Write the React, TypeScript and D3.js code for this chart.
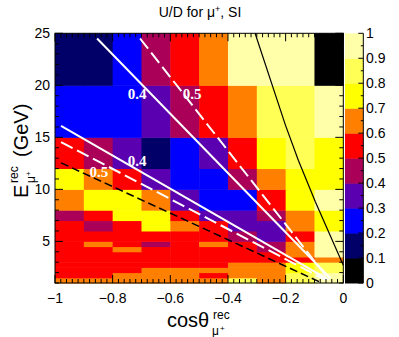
import React from 'react';
import * as d3 from 'd3';

// bin edges of the histogram
const cosEdges = [-1, -0.9, -0.8, -0.7, -0.6, -0.5, -0.4, -0.3, -0.2, -0.1, 0];
const energyEdges = [1, 1.5, 2, 2.5, 3, 3.5, 4, 4.5, 5, 6, 7, 8, 10, 12, 15, 20, 25];

// U/D ratio, one row per energy bin (bottom to top), columns follow cosEdges
const udRatio = [
  [0.65, 0.65, 0.65, 0.65, 0.65, 0.65, 0.85, 0.65, 0.85, 0.95],
  [0.55, 0.55, 0.65, 0.65, 0.65, 0.55, 0.65, 0.65, 0.85, 0.95],
  [0.55, 0.55, 0.55, 0.65, 0.65, 0.65, 0.65, 0.65, 0.75, 0.85],
  [0.55, 0.55, 0.55, 0.55, 0.55, 0.55, 0.65, 0.65, 0.75, 0.85],
  [0.55, 0.55, 0.55, 0.55, 0.55, 0.55, 0.55, 0.55, 0.55, 0.65],
  [0.55, 0.55, 0.55, 0.55, 0.55, 0.55, 0.55, 0.55, 0.65, 0.95],
  [0.55, 0.55, 0.65, 0.55, 0.55, 0.55, 0.55, 0.45, 0.65, 0.95],
  [0.55, 0.65, 0.55, 0.45, 0.55, 0.65, 0.55, 0.45, 0.65, 0.95],
  [0.55, 0.55, 0.55, 0.55, 0.55, 0.55, 0.45, 0.35, 0.55, 0.95],
  [0.55, 0.45, 0.55, 0.75, 0.65, 0.55, 0.35, 0.35, 0.65, 0.75],
  [0.45, 0.55, 0.75, 0.75, 0.55, 0.35, 0.35, 0.45, 0.65, 0.75],
  [0.65, 0.75, 0.75, 0.65, 0.35, 0.25, 0.25, 0.55, 0.75, 0.95],
  [0.75, 0.65, 0.55, 0.35, 0.25, 0.25, 0.45, 0.65, 0.75, 0.75],
  [0.55, 0.45, 0.35, 0.15, 0.25, 0.35, 0.55, 0.75, 0.85, 0.75],
  [0.25, 0.25, 0.25, 0.35, 0.45, 0.55, 0.65, 0.85, 0.85, 0.95],
  [0.15, 0.15, 0.25, 0.45, 0.55, 0.65, 0.95, 0.95, 0.95, 0.05],
];

const paletteLevels = [0, 0.1, 0.2, 0.3, 0.4, 0.5, 0.6, 0.7, 0.8, 0.9, 1];
const paletteColors = [
  '#000000', '#000068', '#0000ff', '#5a00b0', '#aa0058',
  '#ff0000', '#ff8000', '#ffff00', '#ffff55', '#ffffaa',
];

const xTickLabels = [-1, -0.8, -0.6, -0.4, -0.2, 0];
const yTickLabels = [5, 10, 15, 20, 25];

// overlay curves (cos, E)
const solidUpper = [[-0.854, 24.5], [-0.045, 1.45]];
const dashedUpper = [[-0.705, 24.5], [-0.056, 1.55]];
const solidLower = [[-0.979, 16.1], [-0.05, 1.3]];
const dashedLower = [[-0.979, 14.55], [-0.062, 1.3]];
const blackDashed = [[-0.979, 12.55], [-0.074, 1.0]];
const blackSolid = [[-0.306, 25], [-0.201, 16.2], [-0.156, 12.8], [-0.097, 8.8], [0, 2.7]];

const labels = [
  { text: '0.4', x: -0.748, y: 18.7 },
  { text: '0.5', x: -0.557, y: 18.7 },
  { text: '0.4', x: -0.748, y: 12.25 },
  { text: '0.5', x: -0.88, y: 11.15 },
];

const W = 399;
const H = 337;
const m = { left: 55, right: 343.3, top: 33.3, bottom: 283 };
const bar = { x0: 345, x1: 363.3 };
const font = 'Liberation Sans, Arial, Helvetica, sans-serif';

const App = () => {
  const xs = d3.scaleLinear().domain([-1, 0]).range([m.left, m.right]);
  const ys = d3.scaleLinear().domain([1, 25]).range([m.bottom, m.top]);
  const zs = d3.scaleLinear().domain([0, 1]).range([m.bottom, m.top]);
  const color = d3.scaleThreshold<number, string>().domain(paletteLevels.slice(1, -1)).range(paletteColors);
  const line = d3.line<number[]>().x((d) => xs(d[0])).y((d) => ys(d[1]));

  const xMinor = d3.range(0, 51).map((i) => -1 + i * 0.02);
  const yMinor = d3.range(1, 26);
  const zMinor = d3.range(0, 21).map((i) => i * 0.05);

  return (
    <svg width={W} height={H} style={{ position: 'absolute', left: 0, top: 0, background: '#fff' }}>
      <text x={200} y={17} textAnchor="middle" fontFamily={font} fontSize={14}>
        U/D for μ<tspan fontSize={9} dy={-5}>+</tspan><tspan dy={5}>, SI</tspan>
      </text>

      {udRatio.map((row, i) =>
        row.map((v, j) => (
          <rect
            key={`${i}-${j}`}
            x={xs(cosEdges[j])}
            y={ys(energyEdges[i + 1])}
            width={xs(cosEdges[j + 1]) - xs(cosEdges[j]) + 0.5}
            height={ys(energyEdges[i]) - ys(energyEdges[i + 1]) + 0.5}
            fill={color(v)}
          />
        ))
      )}

      <g fill="none">
        <path d={line(blackDashed)!} stroke="#000" strokeWidth={1.5} strokeDasharray="8,4" />
        <path d={line(blackSolid)!} stroke="#000" strokeWidth={1.2} />
        <path d={line(solidUpper)!} stroke="#fff" strokeWidth={2} />
        <path d={line(dashedUpper)!} stroke="#fff" strokeWidth={2} strokeDasharray="13,5" />
        <path d={line(solidLower)!} stroke="#fff" strokeWidth={2} />
        <path d={line(dashedLower)!} stroke="#fff" strokeWidth={2} strokeDasharray="13,5" />
      </g>
      {labels.map((l, i) => (
        <text key={i} x={xs(l.x)} y={ys(l.y)} fill="#fff" fontFamily="Liberation Serif, Times New Roman, serif"
          fontWeight="bold" fontSize={15}>{l.text}</text>
      ))}

      {/* frame and ticks */}
      <rect x={m.left} y={m.top} width={m.right - m.left} height={m.bottom - m.top} fill="none" stroke="#000" strokeWidth={1} />
      {xMinor.map((v, i) => {
        const len = i % 10 === 0 ? 8 : 4;
        return (
          <g key={`xt${i}`} stroke="#000" strokeWidth={1}>
            <line x1={xs(v)} x2={xs(v)} y1={m.bottom} y2={m.bottom - len} />
            <line x1={xs(v)} x2={xs(v)} y1={m.top} y2={m.top + len} />
          </g>
        );
      })}
      {yMinor.map((v) => {
        const len = v % 5 === 0 ? 8 : 4;
        return (
          <g key={`yt${v}`} stroke="#000" strokeWidth={1}>
            <line x1={m.left} x2={m.left + len} y1={ys(v)} y2={ys(v)} />
            <line x1={m.right} x2={m.right - len} y1={ys(v)} y2={ys(v)} />
          </g>
        );
      })}
      {xTickLabels.map((v) => (
        <text key={`xl${v}`} x={xs(v)} y={303} textAnchor="middle" fontFamily={font} fontSize={14}>
          {v === 0 ? '0' : `−${d3.format('')(Math.abs(v))}`}
        </text>
      ))}
      {yTickLabels.map((v) => (
        <text key={`yl${v}`} x={50} y={ys(v) + 5} textAnchor="end" fontFamily={font} fontSize={14}>{v}</text>
      ))}

      {/* colour bar */}
      {paletteColors.map((c, i) => (
        <rect key={`cb${i}`} x={bar.x0} y={zs(paletteLevels[i + 1])} width={bar.x1 - bar.x0}
          height={zs(paletteLevels[i]) - zs(paletteLevels[i + 1]) + 0.5} fill={c} />
      ))}
      <line x1={bar.x1} x2={bar.x1} y1={m.top} y2={m.bottom} stroke="#000" />
      {zMinor.map((v, i) => (
        <line key={`zt${i}`} x1={bar.x1} x2={bar.x1 - (i % 2 === 0 ? 5 : 2.5)} y1={zs(v)} y2={zs(v)} stroke="#000" />
      ))}
      {paletteLevels.map((v) => (
        <text key={`zl${v}`} x={366} y={zs(v) + 5} fontFamily={font} fontSize={14}>{v}</text>
      ))}

      {/* axis titles */}
      <g fontFamily={font}>
        <text x={167} y={327} fontSize={20}>cosθ</text>
        <text x={213} y={319} fontSize={12}>rec</text>
        <text x={212} y={335} fontSize={12}>μ</text>
        <text x={220} y={331} fontSize={8}>+</text>
      </g>
      <g fontFamily={font} transform="translate(28,198) rotate(-90)">
        <text x={0} y={0} fontSize={20}>E</text>
        <text x={15} y={-10} fontSize={12}>rec</text>
        <text x={15} y={7} fontSize={12}>μ</text>
        <text x={22} y={3} fontSize={8}>+</text>
        <text x={41} y={0} fontSize={20}>(GeV)</text>
      </g>
    </svg>
  );
};

export default App;
